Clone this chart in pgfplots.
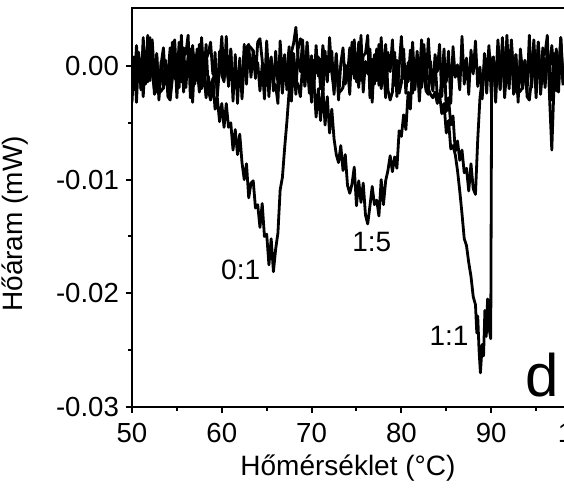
\documentclass[border=0pt]{standalone}
\usepackage{fontspec}
\setmainfont{Liberation Sans}
\usepackage{pgfplots}
\pgfplotsset{compat=1.18}
\begin{document}
\begin{tikzpicture}
\begin{axis}[
  scale only axis,
  width=224.5pt, height=199.5pt,
  xmin=50, xmax=100, ymin=-30, ymax=5.1,
  xtick={50,60,...,100},
  minor xtick={55,65,...,95},
  ytick={-30,-20,-10,0},
  yticklabels={-0.03,-0.02,-0.01,0.00},
  minor ytick={-25,-15,-5},
  xtick pos=left, ytick pos=left,
  tick align=outside,
  major tick length=3pt, minor tick length=2pt,
  axis line style={line width=1.1pt},
  every tick/.style={black, line width=1pt},
  tick label style={font=\fontsize{13.8}{16}\selectfont},
  xticklabel style={yshift=-1.5pt},
  /pgf/number format/assume math mode=true,
  label style={font=\fontsize{14}{17}\selectfont},
  xlabel={Hőmérséklet (°C)},
  ylabel={Hőáram (mW)},
  xlabel style={at={(axis description cs:0.481,-0.153)}, anchor=center},
  ylabel style={at={(axis description cs:-0.26,0.459)}, anchor=center},
  cycle list={{black},{black},{black}},
  every axis plot/.append style={line width=1.4pt, line join=round, no markers},
]
\coordinate (BL) at (rel axis cs:0,0);
% 0:1
\addplot table {
50 0.9
50.25 -2.1
50.5 1.8
50.75 -0.9
51 0.6
51.25 -2.7
51.5 1.3
51.75 -1.4
52 2.5
52.25 -0.6
52.5 -2.2
52.75 1.1
53 -3.0
53.25 0.2
53.5 1.6
53.75 -1.6
54 -0.1
54.25 -2.5
54.5 2.1
54.75 -1.1
55 0.8
55.25 -1.9
55.5 2.7
55.75 -2.3
56 0.4
56.25 -0.7
56.5 1.5
56.75 -3.2
57 1.0
57.25 -1.3
57.5 1.9
57.75 -2.0
58 -0.6
58.25 -2.8
58.5 -0.9
58.75 -2.3
59 -1.1
59.25 -3.8
59.5 -2.8
59.75 -4.9
60 -3.3
60.25 -5.4
60.5 -3.3
60.75 -5.4
61 -5.0
61.25 -7.4
61.5 -5.6
61.75 -7.8
62 -6.0
62.25 -8.5
62.5 -10.0
62.75 -8.6
63 -11.6
63.25 -10.3
63.5 -10.1
63.75 -12.5
64 -12.2
64.25 -14.2
64.5 -12.1
64.75 -15.0
65 -14.8
65.25 -17.5
65.5 -15.2
65.75 -18.1
66 -16.1
66.25 -14.7
66.5 -10.9
66.75 -9.8
67 -7.2
67.25 -4.9
67.5 -2.2
67.75 1.2
68 2.0
68.25 3.4
68.5 0.6
68.75 -0.5
69 2.3
69.25 -1.7
69.5 0.5
69.75 -2.4
70 0.9
70.25 -2.1
70.5 1.8
70.75 -0.9
71 0.6
71.25 -2.7
71.5 1.3
71.75 -1.4
72 2.5
72.25 -0.6
72.5 -2.2
72.75 1.1
73 -3.0
73.25 0.2
73.5 1.6
73.75 -1.6
74 -0.1
74.25 -2.5
74.5 2.1
74.75 -1.1
75 0.8
75.25 -1.9
75.5 2.7
75.75 -2.3
76 0.4
76.25 -0.7
76.5 1.5
76.75 -3.2
77 1.0
77.25 -1.3
77.5 1.9
77.75 -2.0
78 0.1
78.25 -2.8
78.5 1.2
78.75 -0.5
79 2.3
79.25 -1.7
79.5 0.5
79.75 -2.4
80 -1.5
80.25 1.5
80.5 -2.4
80.75 0.3
81 -1.2
81.25 2.1
81.5 -1.9
81.75 0.8
82 -3.1
82.25 0.0
82.5 1.6
82.75 -1.7
83 2.4
83.25 -0.8
83.5 -2.2
83.75 1.0
84 -0.5
84.25 1.9
84.5 -2.7
84.75 0.5
85 -1.4
85.25 1.3
85.5 -3.3
85.75 1.7
86 -1.0
86.25 0.1
86.5 -2.1
86.75 2.6
87 -1.6
87.25 0.7
87.5 -2.5
87.75 1.4
88 -0.7
88.25 2.2
88.5 -1.8
88.75 -0.1
89 -2.9
89.25 1.1
89.5 -1.1
89.75 1.8
90 -2.4
90.25 0.5
90.5 -1.7
90.75 2.3
91 -0.5
91.25 1.2
91.5 -2.8
91.75 0.1
92 -2.0
92.25 1.9
92.5 -1.3
92.75 1.0
93 -3.2
93.25 1.5
93.5 -0.7
93.75 0.4
94 -2.3
94.25 2.7
94.5 -1.9
94.75 0.8
95 -1.1
95.25 2.1
95.5 -2.5
95.75 -0.1
96 -1.6
96.25 1.6
96.5 0.2
96.75 -3.0
97 1.1
97.25 -2.2
97.5 -0.6
97.75 2.5
98 -1.4
};
% 1:5
\addplot table {
50 0.2
50.25 0.8
50.5 -3.2
50.75 1.2
51 -2.1
51.25 2.5
51.5 -1.6
51.75 2.7
52 -1.3
52.25 2.3
52.5 -0.9
52.75 -2.2
53 -2.5
53.25 0.4
53.5 -2.0
53.75 0.5
54 -2.7
54.25 -3.0
54.5 -1.1
54.75 1.5
55 -2.8
55.25 0.9
55.5 -1.4
55.75 1.6
56 -1.9
56.25 1.0
56.5 -0.5
56.75 1.8
57 -0.6
57.25 -0.1
57.5 -2.3
57.75 1.9
58 -1.7
58.25 0.6
58.5 1.1
58.75 2.1
59 -0.7
59.25 0.1
59.5 -2.4
59.75 1.3
60 -0.8
60.25 -1.4
60.5 2.6
60.75 -1.8
61 1.5
61.25 -3.1
61.5 1.0
61.75 -3.3
62 0.7
62.25 -2.9
62.5 0.3
62.75 1.6
63 1.9
63.25 -1.0
63.5 1.4
63.75 -1.1
64 2.1
64.25 2.4
64.5 0.5
64.75 -2.1
65 2.2
65.25 -1.5
65.5 0.8
65.75 -2.2
66 1.3
66.25 -1.6
66.5 -0.1
66.75 -2.4
67 0.0
67.25 -0.5
67.5 1.7
67.75 -2.5
68 1.1
68.25 -1.2
68.5 -1.7
68.75 -2.7
69 0.1
69.25 -0.7
69.5 1.8
69.75 -1.9
70 -1.2
70.25 -1.3
70.5 -4.5
70.75 -2.0
71 -4.8
71.25 -1.9
71.5 -5.2
71.75 -2.7
72 -5.9
72.25 -3.8
72.5 -6.4
72.75 -7.8
73 -8.5
73.25 -7.0
73.5 -9.2
73.75 -7.8
74 -10.5
74.25 -11.2
74.5 -10.4
74.75 -8.9
75 -12.3
75.25 -10.1
75.5 -12.0
75.75 -10.3
76 -13.1
76.25 -13.9
76.5 -12.3
76.75 -10.6
77 -12.2
77.25 -11.8
77.5 -13.2
77.75 -10.0
78 -12.2
78.25 -10.1
78.5 -9.2
78.75 -7.9
79 -9.3
79.25 -8.0
79.5 -9.0
79.75 -5.7
80 -6.2
80.25 -4.3
80.5 -5.6
80.75 -2.3
81 -3.8
81.25 0.2
81.5 -2.1
81.75 1.3
82 -1.2
82.25 2.3
82.5 -0.9
82.75 -2.2
83 -2.5
83.25 0.4
83.5 -2.0
83.75 0.5
84 -2.7
84.25 -3.0
84.5 -1.1
84.75 1.5
85 -4.0
85.25 -2.8
85.5 -5.2
85.75 -4.4
86 -7.5
86.25 -6.6
86.5 -8.3
86.75 -7.4
87 -9.4
87.25 -9.0
87.5 -11.0
87.75 -8.6
88 -10.8
88.25 -11.3
88.5 -6.5
88.75 -2.8
89 -1.2
89.25 0.1
89.5 -2.4
89.75 1.3
90 0.2
90.25 0.8
90.5 -3.2
90.75 1.2
91 -2.1
91.25 2.5
91.5 -1.6
91.75 2.7
92 -1.3
92.25 2.3
92.5 -0.9
92.75 -2.2
93 -2.5
93.25 0.4
93.5 -2.0
93.75 0.5
94 -2.7
94.25 -3.0
94.5 -1.1
94.75 1.5
95 -2.8
95.25 0.9
95.5 -1.4
95.75 1.6
96 -1.9
96.25 1.0
96.5 -0.5
96.75 1.8
97 -0.6
97.25 -0.1
97.5 -2.3
97.75 1.9
98 -1.7
};
% 1:1
\addplot table {
50 -3.2
50.25 0.5
50.5 -0.6
50.75 0.8
51 -2.0
51.25 1.8
51.5 0.2
51.75 0.4
52 -0.5
52.25 1.3
52.5 -2.5
52.75 1.0
53 -2.4
53.25 -2.2
53.5 -1.9
53.75 0.1
54 -0.9
54.25 1.6
54.5 -0.7
54.75 2.3
55 -1.4
55.25 2.1
55.5 -1.3
55.75 0.9
56 1.1
56.25 2.7
56.5 -2.8
56.75 0.6
57 -1.6
57.25 1.5
57.5 -1.7
57.75 2.5
58 -1.1
58.25 1.9
58.5 -2.1
58.75 -3.0
59 -2.3
59.25 1.2
59.5 -2.7
59.75 -0.1
60 2.6
60.25 -1.1
60.5 0.0
60.75 -1.4
61 1.4
61.25 -2.4
61.5 -0.8
61.75 -1.0
62 -0.1
62.25 -1.9
62.5 1.9
62.75 -1.6
63 1.8
63.25 1.6
63.5 1.3
63.75 -0.7
64 0.3
64.25 -2.2
64.5 0.1
64.75 -2.9
65 0.8
65.25 -2.7
65.5 0.7
65.75 -1.5
66 -1.7
66.25 -3.3
66.5 2.2
66.75 -1.2
67 1.0
67.25 -2.1
67.5 1.1
67.75 -3.1
68 0.5
68.25 -2.5
68.5 1.5
68.75 2.4
69 1.7
69.25 -1.8
69.5 2.1
69.75 -0.5
70 -3.2
70.25 0.5
70.5 -0.6
70.75 0.8
71 -2.0
71.25 1.8
71.5 0.2
71.75 0.4
72 -0.5
72.25 1.3
72.5 -2.5
72.75 1.0
73 -2.4
73.25 -2.2
73.5 -1.9
73.75 0.1
74 -0.9
74.25 1.6
74.5 -0.7
74.75 2.3
75 -1.4
75.25 2.1
75.5 -1.3
75.75 0.9
76 1.1
76.25 2.7
76.5 -2.8
76.75 0.6
77 -1.6
77.25 1.5
77.5 -1.7
77.75 2.5
78 -1.1
78.25 1.9
78.5 -2.1
78.75 -3.0
79 -2.3
79.25 1.2
79.5 -2.7
79.75 -0.1
80 2.6
80.25 -1.1
80.5 0.0
80.75 -1.4
81 1.4
81.25 -2.4
81.5 -0.8
81.75 -1.0
82 -0.1
82.25 -1.9
82.5 1.9
82.75 -1.6
83 -2.0
83.25 -2.5
83.5 -2.8
83.75 -2.3
84 -3.3
84.25 -2.5
84.5 -4.2
84.75 -3.3
85 -5.9
85.25 -4.8
85.5 -7.3
85.75 -7.0
86 -7.8
86.25 -9.2
86.5 -11.0
86.75 -13.0
87 -15.2
87.25 -15.8
87.5 -17.3
87.75 -18.5
88 -20.3
88.25 -21.0
88.4 -23.5
88.5 -22.0
88.65 -25.0
88.8 -27.0
89 -24.5
89.15 -25.5
89.3 -21.5
89.45 -23.8
89.6 -20.5
89.75 -23.0
89.95 -24.0
90.05 -2.0
90.25 0.5
90.5 -0.6
90.75 0.8
91 -2.0
91.25 1.8
91.5 0.2
91.75 0.4
92 -0.5
92.25 1.3
92.5 -2.5
92.75 1.0
93 -2.4
93.25 -2.2
93.5 -1.9
93.75 0.1
94 -0.9
94.25 1.6
94.5 -0.7
94.75 2.3
95 -1.4
95.25 2.1
95.5 -1.3
95.75 0.9
96 1.1
96.25 2.7
96.5 -2.8
96.75 -7.4
97 -1.6
97.25 1.5
97.5 -1.7
97.75 2.5
98 -1.1
};
\node[font=\fontsize{14}{17}\selectfont] at (axis cs:62.1,-17.9) {0:1};
\node[font=\fontsize{14}{17}\selectfont] at (axis cs:76.7,-15.5) {1:5};
\node[font=\fontsize{14}{17}\selectfont] at (axis cs:85.3,-23.7) {1:1};
\node[font=\fontsize{30}{36}\selectfont] at (axis cs:95.7,-27.2) {d};
\end{axis}
\pgfresetboundingbox
\path[use as bounding box] ([shift={(-66pt,-47pt)}]BL) rectangle ([shift={(216pt,203.5pt)}]BL);
\end{tikzpicture}
\end{document}
